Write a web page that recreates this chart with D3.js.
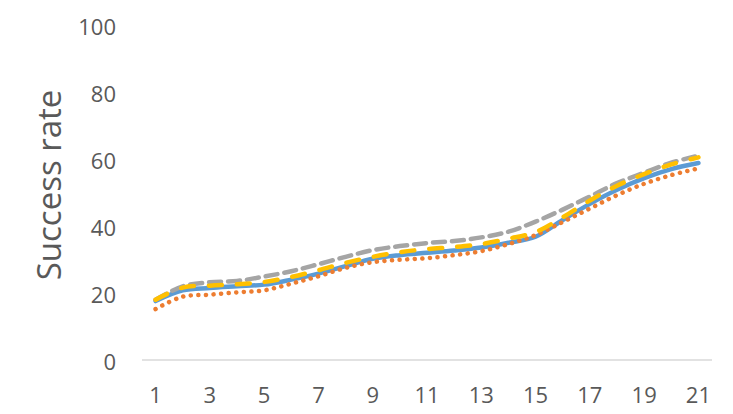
<!DOCTYPE html>
<html lang="en">
<head>
<meta charset="UTF-8">
<title>Success rate</title>
<script src="https://d3js.org/d3.v7.min.js"></script>
<style>
  body { margin: 0; background: #fff; }
  text { font-family: 'Open Sans', 'Noto Sans', sans-serif; fill: #595959; }
</style>
</head>
<body>
<div id="chart"></div>
<script>
// data
const steps = d3.range(1, 22);
const blueVals   = [17.6, 20.8, 21.5, 22, 22.5, 24, 25.8, 28, 30.2, 31.3, 32, 32.7, 33.6, 35, 36.8, 41.8, 46.6, 50.8, 54.3, 57, 58.8];
const orangeVals = [15.2, 18.9, 19.5, 20.2, 20.8, 22.8, 25, 27.5, 29.2, 29.9, 30.4, 31.3, 32.5, 34.6, 37.3, 41.2, 45.2, 49.2, 52.6, 55.2, 57.2];
const grayVals   = [18, 22, 23.2, 23.6, 24.9, 26.5, 28.6, 30.8, 32.8, 34, 34.9, 35.5, 36.6, 38.3, 41.3, 44.9, 48.8, 52.8, 55.9, 58.9, 61];
const yellowVals = [18, 21.6, 22.2, 22.6, 23.3, 24.8, 26.8, 29, 30.8, 32.2, 33.1, 33.7, 34.6, 36.2, 38.2, 42.6, 47.6, 52, 55.5, 58.4, 60.5];
const yTicks = [0, 20, 40, 60, 80, 100];
const xTickLabels = steps.filter(d => d % 2 === 1);

const width = 733, height = 414;

const svg = d3.select("#chart").append("svg")
    .attr("width", width)
    .attr("height", height);

const x = d3.scaleBand().domain(steps).range([142, 712]);
const y = d3.scaleLinear().domain([0, 100]).range([360, 25]);
const cx = d => x(d) + x.bandwidth() / 2;

// category axis line
svg.append("line")
    .attr("x1", 142).attr("x2", 712)
    .attr("y1", y(0)).attr("y2", y(0))
    .attr("stroke", "#d9d9d9").attr("stroke-width", 1.3);

// y tick labels
svg.selectAll(".ytick")
    .data(yTicks)
    .join("text")
    .attr("class", "ytick")
    .attr("x", 116)
    .attr("y", d => y(d) + 2)
    .attr("dy", "0.35em")
    .attr("text-anchor", "end")
    .style("font-size", "22px")
    .text(d => d);

// x tick labels
svg.selectAll(".xtick")
    .data(xTickLabels)
    .join("text")
    .attr("class", "xtick")
    .attr("x", d => cx(d))
    .attr("y", 403)
    .attr("text-anchor", "middle")
    .style("font-size", "22px")
    .text(d => d);

// axis title
svg.append("text")
    .attr("transform", "translate(61,185) rotate(-90)")
    .attr("text-anchor", "middle")
    .style("font-size", "33px")
    .text("Success rate");

const line = d3.line()
    .x((d, i) => cx(steps[i]))
    .y(d => y(d))
    .curve(d3.curveCatmullRom.alpha(0.5));

const series = [
    {vals: blueVals,   color: "#5b9bd5", dash: null},
    {vals: orangeVals, color: "#ed7d31", dash: "0.1 7.5"},
    {vals: grayVals,   color: "#a5a5a5", dash: "12 7"},
    {vals: yellowVals, color: "#ffc000", dash: "13 15"}
];

series.forEach(s => {
    svg.append("path")
        .datum(s.vals)
        .attr("fill", "none")
        .attr("stroke", s.color)
        .attr("stroke-width", 4.5)
        .attr("stroke-linecap", "round")
        .attr("stroke-linejoin", "round")
        .attr("stroke-dasharray", s.dash)
        .attr("d", line);
});
</script>
</body>
</html>
